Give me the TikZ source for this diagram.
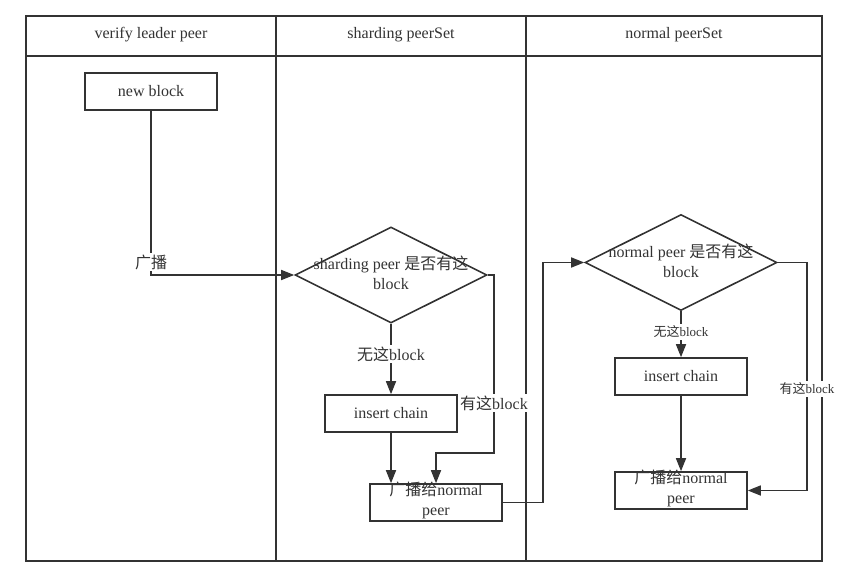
\documentclass[tikz,border=0pt]{standalone}
\usepackage{fontspec}
\setmainfont{Liberation Serif}
\newfontfamily\cjk{Noto Sans CJK SC}
\usetikzlibrary{shapes.geometric,arrows.meta}
\definecolor{ln}{HTML}{333333}
\begin{document}
\begin{tikzpicture}[x=1bp,y=-1bp,
  big/.style={font=\fontsize{16bp}{20bp}\selectfont, text=ln},
  small/.style={font=\fontsize{13bp}{16bp}\selectfont, text=ln},
  box/.style={draw=ln, line width=1.6bp, minimum width=132bp, minimum height=37bp, inner sep=0pt, big},
  dia/.style={draw=ln, line width=1.6bp, diamond, minimum width=192bp, minimum height=96bp, inner sep=0pt},
  conn/.style={draw=ln, line width=1.6bp, -{Triangle[length=13bp,width=10bp]}},
  lane/.style={draw=ln, line width=1.8bp},
  lbl/.style={fill=white, inner sep=1.5bp, align=center}
]
\useasboundingbox (0,0) rectangle (857,586);
% swimlanes
\draw[lane] (26,16) rectangle (822,561);
\draw[lane] (26,56) -- (822,56);
\draw[lane] (276,16) -- (276,561);
\draw[lane] (526,16) -- (526,561);
\node[big] (h1) at (151,35) {verify leader peer};
\node[big] (h2) at (401,35) {sharding peerSet};
\node[big] (h3) at (674,35) {normal peerSet};
% shapes
\node[box] (nb) at (151,91.5) {new block};
\node[dia] (d1) at (391,275) {};
\node[big, align=center] (d1t) at (391,273) {sharding peer {\cjk 是否有这}\\block};
\node[box] (ic1) at (391,413.5) {insert chain};
\node[box] (pb1) at (436,502.5) {};
\node[big, align=center] (pb1t) at (436,500) {{\cjk 广播给}normal\\peer};
\node[dia] (d2) at (681,262.5) {};
\node[big, align=center] (d2t) at (681,261) {normal peer {\cjk 是否有这}\\block};
\node[box] (ic2) at (681,376.5) {insert chain};
\node[box] (pb2) at (681,490.5) {};
\node[big, align=center] (pb2t) at (681,488) {{\cjk 广播给}normal\\peer};
% connectors
\coordinate (c1) at (494,275);
\coordinate (c2) at (494,453);
\coordinate (c3) at (543,502.5);
\coordinate (c4) at (807,262.5);
\draw[conn] (nb.south) |- (d1.west);
\node[big, lbl] (l1) at (151,262) {\cjk 广播};
\draw[conn] (d1.south) -- (ic1.north);
\node[big, lbl] (l2) at (391,354) {{\cjk 无这}block};
\draw[conn] (ic1.south) -- (ic1.south |- pb1.north);
\draw[conn] (d1.east) -- (c1) -- (c2) -| (pb1.north);
\node[big, lbl] (l3) at (494,403) {{\cjk 有这}block};
\draw[conn] (pb1.east) -- (c3) |- (d2.west);
\draw[conn] (d2.south) -- (ic2.north);
\node[small, lbl] (l4) at (681,332) {{\cjk 无这}block};
\draw[conn] (ic2.south) -- (pb2.north);
\draw[conn] (d2.east) -- (c4) |- (pb2.east);
\node[small, lbl] (l5) at (807,389) {{\cjk 有这}block};
\end{tikzpicture}
\end{document}
